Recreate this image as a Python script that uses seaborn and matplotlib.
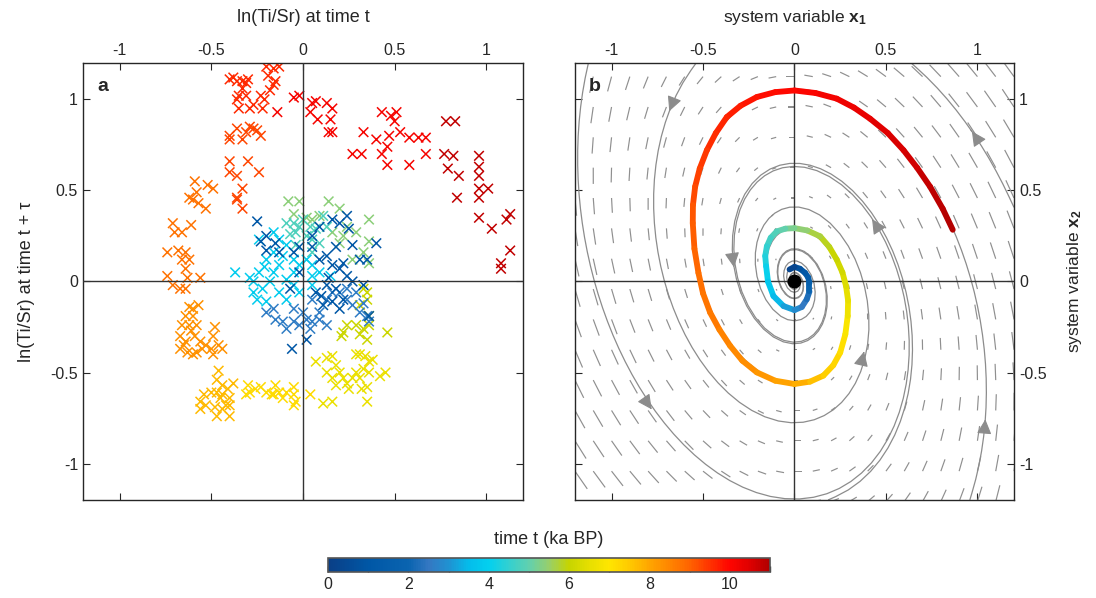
import numpy as np
import pandas as pd
import matplotlib
matplotlib.use("Agg")
import matplotlib.pyplot as plt
import seaborn as sns
from matplotlib.colors import LinearSegmentedColormap, Normalize
from matplotlib.collections import LineCollection
from matplotlib.cm import ScalarMappable
from matplotlib.patches import FancyArrowPatch

t_dred = 10.8
x_dred = [1.13, 1.11, 0.96, 1.03, 1.13, 1.08, 1.08, 0.96, 0.84, 0.96, 1.01, 0.96, 0.96, 0.96, 0.85, 0.79, 0.82, 0.77, 0.78, 0.83]
y_dred = [0.37, 0.34, 0.35, 0.29, 0.17, 0.10, 0.07, 0.46, 0.46, 0.51, 0.51, 0.58, 0.63, 0.69, 0.58, 0.62, 0.69, 0.70, 0.88, 0.88]

t_red = 10.1
x_red = [0.67, 0.58, 0.46, 0.43, 0.46, 0.40, 0.47, 0.53, 0.58, 0.63, 0.67, 0.50, 0.51, 0.43, 0.48, 0.33, 0.32, 0.27, 0.16, 0.14,
         0.15, 0.08, 0.04, 0.05, 0.13, 0.16, 0.07, -0.02, -0.05, -0.14]
y_red = [0.70, 0.64, 0.64, 0.70, 0.74, 0.78, 0.80, 0.82, 0.79, 0.79, 0.79, 0.88, 0.93, 0.93, 0.91, 0.82, 0.70, 0.70, 0.82, 0.82,
         0.89, 0.89, 0.93, 0.98, 0.98, 0.95, 0.99, 1.02, 1.01, 0.93]

t_ored = 9.6
x_ored = [-0.40, -0.36, -0.31, -0.33, -0.30, -0.35, -0.36, -0.31, -0.35, -0.29, -0.27, -0.22, -0.23, -0.21, -0.18, -0.16, -0.15,
          -0.19, -0.16, -0.13, -0.20, -0.38, -0.33]
y_ored = [1.11, 1.10, 1.09, 1.10, 1.11, 1.02, 1.00, 1.02, 0.95, 0.95, 0.97, 0.95, 1.02, 1.00, 1.05, 1.08, 1.10, 1.13, 1.17, 1.18,
          1.18, 1.12, 1.06]

t_or1 = 9.3
x_or1 = [-0.40, -0.36, -0.40, -0.33, -0.27, -0.25, -0.29, -0.23, -0.31, -0.40, -0.30, -0.24, -0.40, -0.36, -0.33, -0.36, -0.33, -0.36]
y_or1 = [0.80, 0.84, 0.78, 0.78, 0.84, 0.83, 0.85, 0.80, 0.82, 0.66, 0.66, 0.60, 0.60, 0.58, 0.51, 0.46, 0.40, 0.45]

t_or2 = 8.8
x_or2 = [-0.59, -0.58, -0.52, -0.49, -0.60, -0.57, -0.53, -0.62, -0.71, -0.66, -0.61, -0.70, -0.74, -0.68, -0.64, -0.62,
         -0.66, -0.64, -0.63, -0.74, -0.71, -0.56, -0.67, -0.64]
y_or2 = [0.55, 0.49, 0.53, 0.51, 0.45, 0.43, 0.40, 0.46, 0.32, 0.27, 0.31, 0.27, 0.16, 0.17, 0.16, 0.12,
         0.12, 0.07, 0.02, 0.03, -0.02, 0.02, -0.04, -0.04]

t_or3 = 8.3
x_or3 = [-0.62, -0.60, -0.57, -0.64, -0.60, -0.66, -0.62, -0.58, -0.67, -0.64, -0.59, -0.56, -0.67, -0.63, -0.58, -0.53,
         -0.49, -0.48, -0.50, -0.46, -0.44, -0.49, -0.55, -0.60, -0.61, -0.65]
y_or3 = [-0.14, -0.15, -0.13, -0.19, -0.19, -0.24, -0.24, -0.24, -0.30, -0.33, -0.30, -0.33, -0.37, -0.39, -0.39, -0.35,
         -0.30, -0.25, -0.37, -0.35, -0.37, -0.40, -0.37, -0.40, -0.27, -0.35]

t_yor = 7.7
x_yor = [-0.46, -0.47, -0.44, -0.41, -0.47, -0.44, -0.40, -0.50, -0.54, -0.56, -0.53, -0.56, -0.48, -0.44, -0.40, -0.47,
         -0.40, -0.38, -0.42, -0.45]
y_yor = [-0.49, -0.54, -0.57, -0.59, -0.61, -0.62, -0.64, -0.61, -0.62, -0.66, -0.68, -0.70, -0.69, -0.70, -0.68, -0.74,
         -0.74, -0.56, -0.68, -0.64]

t_yel = 7.2
x_yel = [-0.30, -0.29, -0.26, -0.23, -0.20, -0.17, -0.15, -0.13, -0.09, -0.11, -0.05, -0.05, -0.04, 0.04, -0.05, -0.16, -0.31]
y_yel = [-0.57, -0.61, -0.59, -0.58, -0.61, -0.62, -0.57, -0.61, -0.61, -0.64, -0.58, -0.62, -0.66, -0.62, -0.68, -0.62, -0.62]

t_ygr = 6.6
x_ygr = [0.07, 0.13, 0.16, 0.18, 0.20, 0.13, 0.16, 0.22, 0.18, 0.24, 0.27, 0.29, 0.31, 0.34, 0.36, 0.38, 0.33, 0.29, 0.36,
         0.42, 0.45, 0.31, 0.32, 0.35, 0.16, 0.11, 0.35, 0.25]
y_ygr = [-0.44, -0.42, -0.41, -0.46, -0.50, -0.50, -0.53, -0.53, -0.57, -0.56, -0.53, -0.40, -0.40, -0.41, -0.44, -0.43,
         -0.48, -0.50, -0.50, -0.52, -0.50, -0.53, -0.59, -0.58, -0.66, -0.67, -0.66, -0.59]

t_lgr = 6.1
x_lgr = [0.22, 0.24, 0.29, 0.33, 0.35, 0.31, 0.36, 0.46, 0.21, 0.35, 0.35, 0.33, 0.31, 0.36]
y_lgr = [-0.28, -0.24, -0.24, -0.26, -0.32, -0.29, -0.24, -0.28, -0.30, -0.10, -0.06, -0.04, -0.13, -0.19]

t_grn = 5.4
x_grn = [-0.08, -0.02, 0.14, 0.20, 0.36, -0.05, 0.02, 0.05, 0.09, 0.16, 0.22, 0.24, 0.29, 0.36, 0.33, 0.36, 0.20, 0.27]
y_grn = [0.44, 0.44, 0.44, 0.40, 0.34, 0.37, 0.35, 0.34, 0.36, 0.27, 0.25, 0.30, 0.27, 0.22, 0.16, 0.10, 0.21, 0.12]

t_teal = 4.8
x_teal = [-0.09, -0.05, -0.02, 0.04, 0.07, 0.11, -0.04, 0.02, 0.05, 0.09, -0.04, 0.05, 0.13, 0.00, -0.07]
y_teal = [0.32, 0.32, 0.30, 0.30, 0.29, 0.36, 0.27, 0.25, 0.23, 0.21, 0.20, 0.16, 0.30, 0.34, 0.26]

t_cyan = 3.9
x_cyan = [-0.37, -0.29, -0.24, -0.27, -0.25, -0.22, -0.18, -0.16, -0.13, -0.09, -0.05, -0.02, -0.13, -0.20, -0.09, -0.05,
          0.05, 0.09, 0.15, -0.16, -0.20, -0.24, -0.16, -0.13, -0.09, -0.05, 0.02, 0.05, -0.02, 0.05, -0.27, -0.21, -0.11]
y_cyan = [0.05, 0.02, 0.05, -0.06, -0.10, -0.04, 0.00, 0.05, 0.09, 0.01, 0.05, 0.09, -0.06, -0.11, -0.10, -0.02,
          0.03, 0.05, 0.03, 0.16, 0.12, 0.23, 0.27, 0.23, 0.20, 0.12, 0.12, 0.09, -0.06, -0.02, 0.00, 0.08, 0.14]

t_mblu = 2.6
x_mblu = [-0.15, -0.11, -0.05, -0.02, 0.02, 0.05, 0.09, 0.13, -0.09, 0.04, 0.09, -0.20, -0.16, -0.05, 0.00, 0.05, 0.13,
          0.20, 0.24, 0.16, 0.24, 0.27, 0.31, 0.35, 0.36, 0.33, 0.29]
y_mblu = [-0.21, -0.22, -0.22, -0.24, -0.21, -0.22, -0.21, -0.24, -0.26, -0.26, -0.17, -0.17, -0.15, -0.15, -0.17, -0.10,
          -0.10, -0.06, -0.04, -0.06, -0.10, -0.13, -0.17, -0.19, -0.22, -0.12, -0.06]

t_dblu = 1.0
x_dblu = [-0.25, -0.23, -0.20, -0.15, -0.13, -0.05, -0.02, 0.05, 0.09, 0.16, 0.20, 0.24, 0.25, 0.31, 0.35, 0.40, 0.18,
          0.13, 0.16, 0.20, 0.24, 0.27, 0.22, 0.09, 0.05, -0.02, 0.07, 0.13, 0.16, 0.20, 0.11, 0.33, 0.36, -0.06,
          0.02, -0.07, -0.20, 0.27, 0.10, 0.18, 0.14, 0.22]
y_dblu = [0.33, 0.22, 0.17, 0.21, 0.16, 0.16, 0.19, 0.25, 0.30, 0.34, 0.32, 0.36, 0.29, 0.12, 0.12, 0.21, 0.19,
          0.14, 0.09, 0.07, 0.03, 0.00, 0.10, 0.12, 0.19, 0.05, -0.06, -0.02, -0.11, -0.15, -0.13, -0.02, -0.19, -0.37,
          -0.32, -0.04, 0.25, 0.20, -0.08, -0.04, 0.02, -0.10]

# --- panel b: linear system dx/dt = A x and the reconstructed trajectory ---
a11, a12 = -0.566, -0.99
a21, a22 = 2.06, 0.0

traj_t = [11.0, 10.9, 10.8, 10.7, 10.6, 10.5, 10.4, 10.3, 10.2, 10.1, 10.0, 9.92, 9.85, 9.78, 9.7, 9.6, 9.5, 9.4,
          9.3, 9.2, 9.1, 9.0, 8.9, 8.8, 8.7, 8.6, 8.5, 8.4, 8.3, 8.15, 8.0, 7.75, 7.5, 7.35, 7.2, 7.0, 6.8, 6.6,
          6.4, 6.25, 6.1, 5.95, 5.8, 5.55, 5.3, 5.1, 4.9, 4.75, 4.6, 4.4, 4.2, 3.9, 3.6, 3.3, 3.0, 2.7, 2.4, 2.1,
          1.8, 1.5, 1.2, 0.9, 0.6, 0.0]
traj_x = [0.865, 0.81, 0.741, 0.67, 0.596, 0.51, 0.413, 0.325, 0.231, 0.115, 0.0, -0.105, -0.206, -0.295, -0.370,
          -0.43, -0.479, -0.518, -0.543, -0.555, -0.556, -0.547, -0.525, -0.50, -0.461, -0.41, -0.352, -0.285,
          -0.206, -0.105, 0.0, 0.085, 0.158, 0.212, 0.250, 0.278, 0.291, 0.293, 0.282, 0.262, 0.231, 0.19, 0.140,
          0.07, 0.0, -0.05, -0.097, -0.13, -0.151, -0.16, -0.155, -0.145, -0.115, -0.06, 0.0, 0.04, 0.067, 0.082,
          0.082, 0.075, 0.058, 0.03, 0.0, -0.027]
traj_y = [0.284, 0.40, 0.521, 0.625, 0.721, 0.815, 0.894, 0.955, 1.004, 1.035, 1.049, 1.04, 1.013, 0.965, 0.903,
          0.815, 0.721, 0.62, 0.521, 0.42, 0.321, 0.18, 0.047, -0.065, -0.171, -0.265, -0.353, -0.435, -0.499,
          -0.545, -0.563, -0.55, -0.517, -0.46, -0.390, -0.29, -0.189, -0.105, -0.026, 0.05, 0.120, 0.19, 0.248,
          0.28, 0.293, 0.29, 0.275, 0.24, 0.193, 0.14, 0.084, 0.0, -0.080, -0.135, -0.157, -0.14, -0.098, -0.055,
          -0.007, 0.022, 0.047, 0.07, 0.080, 0.066]

stream_starts = [(1.042, -0.772), (0.978, 0.812), (-0.679, 0.949), (-0.333, 0.093), (-1.17, 0.40)]
arrow_points = [(-0.679, 0.949), (0.978, 0.812), (0.432, 0.330), (-0.333, 0.093), (0.377, -0.399),
                (-0.789, -0.690), (1.042, -0.772)]

# colour map as in the figure (age in ka BP)
cmap_stops = [0, 1, 2, 2.5, 3, 3.5, 4, 4.5, 5, 5.5, 6, 6.5, 7, 7.5, 8, 8.5, 9, 9.5, 10, 10.5, 11]
cmap_cols = ["#0a3f86", "#0057a6", "#0a64b0", "#3478c2", "#1f92d2", "#04bdeb", "#03d0ef", "#33d0d0", "#62d0ae",
             "#98cf6a", "#c6d400", "#e6df00", "#ffe600", "#ffca00", "#ffa600", "#ff8600", "#ff6400", "#ff3400",
             "#ff0500", "#e00000", "#b00000"]
cmap = LinearSegmentedColormap.from_list("age", list(zip(np.array(cmap_stops) / 11, cmap_cols)))
norm = Normalize(0, 11)

sns.set_style("ticks")
plt.rcParams["font.family"] = ["Liberation Sans", "DejaVu Sans"]
plt.rcParams["mathtext.fontset"] = "custom"
plt.rcParams["mathtext.rm"] = "Liberation Sans"
plt.rcParams["mathtext.bf"] = "Liberation Sans:bold"
plt.rcParams["axes.unicode_minus"] = False

fig = plt.figure(figsize=(10.96, 5.98), dpi=100)
ax_a = fig.add_axes([0.0757, 0.1639, 0.4015, 0.7308])
ax_b = fig.add_axes([0.5246, 0.1639, 0.4006, 0.7308])
cax = fig.add_axes([0.2993, 0.0435, 0.4033, 0.0234])

groups = [(t_dred, x_dred, y_dred), (t_red, x_red, y_red), (t_ored, x_ored, y_ored), (t_or1, x_or1, y_or1),
          (t_or2, x_or2, y_or2), (t_or3, x_or3, y_or3), (t_yor, x_yor, y_yor), (t_yel, x_yel, y_yel),
          (t_ygr, x_ygr, y_ygr), (t_lgr, x_lgr, y_lgr), (t_grn, x_grn, y_grn), (t_teal, x_teal, y_teal),
          (t_cyan, x_cyan, y_cyan), (t_mblu, x_mblu, y_mblu), (t_dblu, x_dblu, y_dblu)]
df_a = pd.concat([pd.DataFrame({"x": x, "y": y, "t": t}) for t, x, y in groups], ignore_index=True)

sns.scatterplot(data=df_a, x="x", y="y", hue="t", palette=cmap, hue_norm=norm, marker="x",
                s=48, linewidth=1.1, legend=False, ax=ax_a, zorder=2)
ax_a.axhline(0, color="#333333", lw=1, zorder=3)
ax_a.axvline(0, color="#333333", lw=1, zorder=3)

# panel b: direction field, streamlines, trajectory
gx = np.linspace(-1.2, 1.2, 100)
GX, GY = np.meshgrid(gx, gx)
U = a11 * GX + a12 * GY
V = a21 * GX + a22 * GY

qx = np.arange(-1.2, 1.21, 0.1)
qy = np.arange(-1.2083, 1.2, 1 / 6)
QX, QY = np.meshgrid(qx, qy)
ax_b.quiver(QX, QY, a11 * QX + a12 * QY, a21 * QX + a22 * QY, angles="xy", scale_units="xy", scale=25.4,
            headwidth=0, headlength=0, headaxislength=0, width=0.0027, color="#8f8f8f", zorder=1)

ax_b.streamplot(gx, gx, U, V, start_points=np.array(stream_starts), color="#8c8c8c", linewidth=0.9,
                arrowstyle="-", broken_streamlines=False, maxlength=12, integration_direction="both", zorder=2)

# arrow heads along the streamlines, pointing with the flow
for px, py in arrow_points:
    u = a11 * px + a12 * py
    v = a21 * px + a22 * py
    n = np.hypot(u, v)
    ax_b.add_patch(FancyArrowPatch((px - 0.01 * u / n, py - 0.01 * v / n), (px + 0.015 * u / n, py + 0.015 * v / n),
                                   arrowstyle="-|>,head_length=0.9,head_width=0.45", mutation_scale=10,
                                   color="#8c8c8c", lw=0.8, zorder=2))

ax_b.axhline(0, color="#333333", lw=1, zorder=2.5)
ax_b.axvline(0, color="#333333", lw=1, zorder=2.5)

pts = np.column_stack([traj_x, traj_y])
segs = np.stack([pts[:-1], pts[1:]], axis=1)
lc = LineCollection(segs, cmap=cmap, norm=norm, linewidths=4.2, capstyle="round", joinstyle="round", zorder=3)
lc.set_array((np.array(traj_t[:-1]) + np.array(traj_t[1:])) / 2)
ax_b.add_collection(lc)
ax_b.plot([0], [0], "o", color="black", ms=9, zorder=4)

ticks = [-1, -0.5, 0, 0.5, 1]
tick_lbl = ["-1", "-0.5", "0", "0.5", "1"]
for ax in (ax_a, ax_b):
    ax.set_xlim(-1.2, 1.2)
    ax.set_ylim(-1.2, 1.2)
    ax.set_xticks(ticks, tick_lbl)
    ax.set_yticks(ticks, tick_lbl)
    ax.xaxis.set_label_position("top")
    ax.tick_params(direction="in", length=5, width=0.8, top=True, bottom=True, left=True, right=True,
                   labeltop=True, labelbottom=False, labelsize=11.5, color="#262626")
    for sp in ax.spines.values():
        sp.set_color("#262626")
        sp.set_linewidth(1)

ax_a.tick_params(labelleft=True, labelright=False)
ax_b.tick_params(labelleft=False, labelright=True)
ax_b.yaxis.set_label_position("right")

ax_a.set_xlabel("ln(Ti/Sr) at time t", fontsize=13, labelpad=15)
ax_a.set_ylabel("ln(Ti/Sr) at time t + τ", fontsize=13, labelpad=11)
ax_b.set_xlabel(r"system variable $\mathbf{x_1}$", fontsize=12.5, labelpad=15)
ax_b.set_ylabel(r"system variable $\mathbf{x_2}$", fontsize=12.5, labelpad=13)

ax_a.text(0.032, 0.965, "a", transform=ax_a.transAxes, fontsize=14, fontweight="bold", va="top")
ax_b.text(0.032, 0.965, "b", transform=ax_b.transAxes, fontsize=14, fontweight="bold", va="top")

cb = fig.colorbar(ScalarMappable(norm=norm, cmap=cmap), cax=cax, orientation="horizontal")
cb.set_ticks(range(0, 12), labels=["0", "", "2", "", "4", "", "6", "", "8", "", "10", ""])
cax.tick_params(direction="in", length=4, width=1, labelsize=11.5, color="#333333")
cb.outline.set_edgecolor("#555555")
cb.outline.set_linewidth(1.2)
cax.set_title("time t (ka BP)", fontsize=13, pad=10)

fig.savefig("out.png", dpi=100)
